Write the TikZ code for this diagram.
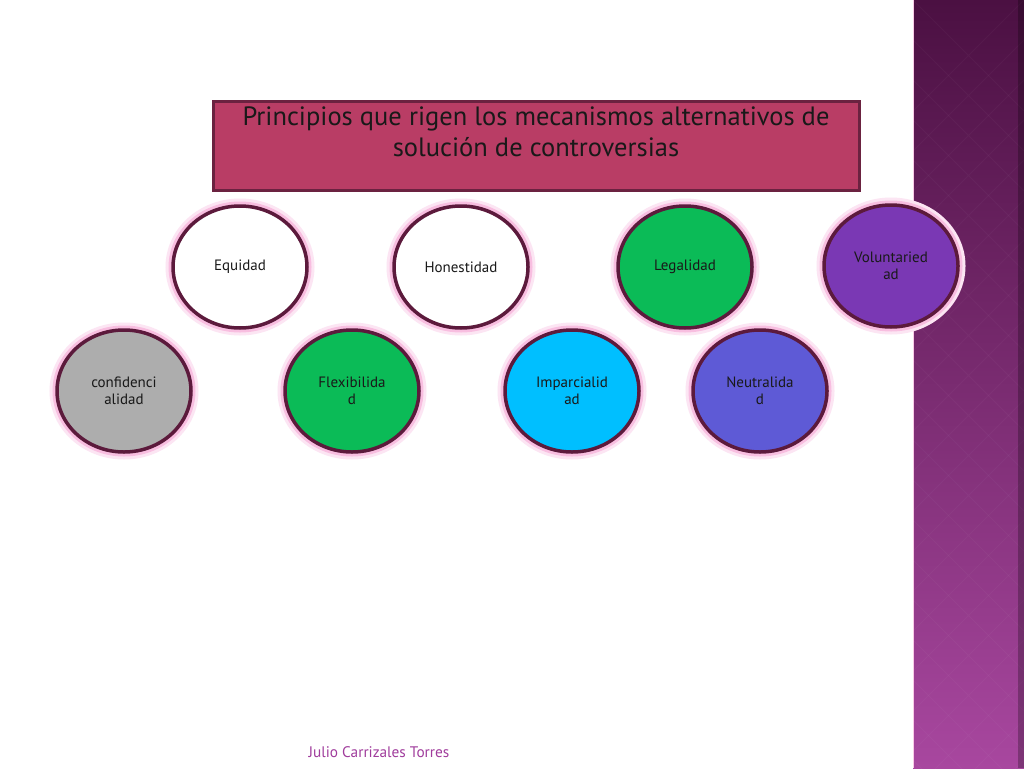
\documentclass[tikz,border=0pt]{standalone}
\usepackage{fontspec}
\setmainfont{PT Sans}
\usetikzlibrary{shapes.geometric,positioning}
\definecolor{tituloFill}{HTML}{B93D65}
\definecolor{tituloBorde}{HTML}{6B2240}
\definecolor{anillo}{HTML}{5C1A3C}
\definecolor{brillo}{HTML}{F5A8D6}
\definecolor{verde}{HTML}{0BBB57}
\definecolor{celeste}{HTML}{00BFFF}
\definecolor{violeta}{HTML}{7A38B4}
\definecolor{azulado}{HTML}{5E5AD6}
\definecolor{gris}{HTML}{ADADAD}
\definecolor{autor}{HTML}{A03C9C}
\definecolor{ladoArriba}{HTML}{4B1042}
\definecolor{ladoAbajo}{HTML}{A8479F}
\begin{document}
\begin{tikzpicture}[x=1pt,y=-1pt,
  principio/.style={ellipse,draw=anillo,line width=3.5pt,minimum width=134pt,minimum height=122pt,
    inner sep=0pt,align=center,text=black!90,font=\fontsize{15}{17}\selectfont,
    preaction={draw=brillo!30,line width=15pt},preaction={draw=brillo!75,line width=9pt}}]
  \useasboundingbox[fill=white] (0,0) rectangle (1024,768);

  % barra lateral
  \shade[top color=ladoArriba,bottom color=ladoAbajo] (913,0) rectangle (1024,768);
  \begin{scope}
    \clip (913,0) rectangle (1024,768);
    \foreach \k in {0,40,...,880}
      \draw[white,opacity=0.03,line width=1pt] (913,\k) -- ++(111,111) (1024,\k) -- ++(-111,111);
  \end{scope}
  \fill[black,opacity=0.25] (1018,0) rectangle (1024,768);
  \draw[brillo!60,line width=1pt] (913.5,0) -- (913.5,768);

  % titulo
  \node[rectangle,draw=tituloBorde,line width=3pt,fill=tituloFill,minimum width=646pt,minimum height=89pt] (titulo) at (536,145.5) {};
  \node[align=center,font=\fontsize{26.5}{31}\selectfont,text=black!90] (titulotxt) at (536,132)
    {Principios que rigen los mecanismos alternativos de\\solución de controversias};

  % fila superior
  \node[principio,fill=white] (equidad) at (240,267) {Equidad};
  \node[principio,fill=white] (honestidad) at (461,267) {Honestidad};
  \node[principio,fill=verde] (legalidad) at (685,267) {Legalidad};
  \node[principio,fill=violeta] (voluntariedad) at (891,266) {Voluntaried\\ad};

  % fila inferior
  \node[principio,fill=gris] (confidencialidad) at (124,391) {confidenci\\alidad};
  \node[principio,fill=verde] (flexibilidad) at (352,391) {Flexibilida\\d};
  \node[principio,fill=celeste] (imparcialidad) at (572,391) {Imparcialid\\ad};
  \node[principio,fill=azulado] (neutralidad) at (760,391) {Neutralida\\d};

  \node[text=autor,font=\fontsize{15.3}{18}\selectfont] (firma) at (379,752) {Julio Carrizales Torres};
\end{tikzpicture}
\end{document}
